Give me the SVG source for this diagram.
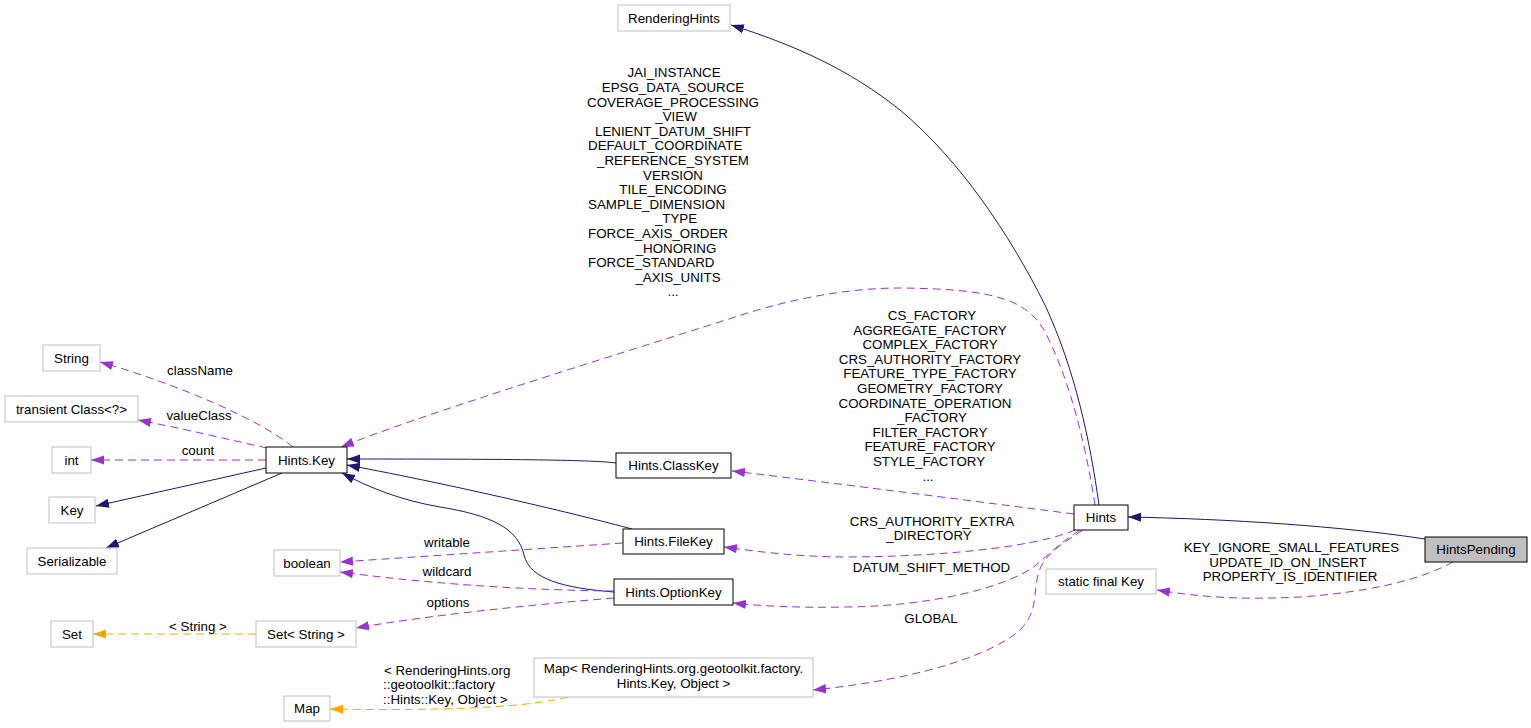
<svg xmlns="http://www.w3.org/2000/svg" width="1531" height="728" viewBox="0 0 1531 728">
<style>
text{font-family:"Liberation Sans",Arial,sans-serif;font-size:13.33px;fill:#000}
.m{text-anchor:middle}
.s{text-anchor:start}
.ext rect{fill:#fff;stroke:#bfbfbf;stroke-width:1}
.doc rect{fill:#fff;stroke:#000;stroke-width:1}
.cur rect{fill:#bfbfbf;stroke:#000;stroke-width:1}
.inh{fill:none;stroke:#191970;stroke-width:1;marker-end:url(#an)}
.use{fill:none;stroke:#9a32cd;stroke-width:1;stroke-dasharray:8,5;marker-end:url(#ap)}
.tpl{fill:none;stroke:#ffa500;stroke-width:1;stroke-dasharray:8,5;marker-end:url(#ao)}
</style>
<defs>
<marker id="an" viewBox="0 0 13 10" refX="13" refY="5" markerWidth="13" markerHeight="10" markerUnits="userSpaceOnUse" orient="auto"><path d="M0,0.4 L13,5 L0,9.6 z" fill="#191970"/></marker>
<marker id="ap" viewBox="0 0 13 10" refX="13" refY="5" markerWidth="13" markerHeight="10" markerUnits="userSpaceOnUse" orient="auto"><path d="M0,0.4 L13,5 L0,9.6 z" fill="#9a32cd"/></marker>
<marker id="ao" viewBox="0 0 13 10" refX="13" refY="5" markerWidth="13" markerHeight="10" markerUnits="userSpaceOnUse" orient="auto"><path d="M0,0.4 L13,5 L0,9.6 z" fill="#ffa500"/></marker>
</defs>
<rect width="1531" height="728" fill="#fff"/>
<g id="connectors">
<path class="inh" d="M1099,505 C1090,440 1075,370 1045,305 C1010,235 960,160 900,110 C850,70 795,45 731,25"/>
<path class="inh" d="M1425,539 C1340,526 1230,519 1128,517"/>
<path class="inh" d="M616,463 C595,460 520,459 347,459"/>
<path class="inh" d="M632,529 C580,515 460,486 347,465"/>
<path class="inh" d="M614,592 C565,588 530,580 524,555 C518,528 490,515 440,507 C400,500 370,488 342,473"/>
<path class="inh" d="M266,468 L96,506"/>
<path class="inh" d="M282,473 L106,548"/>
<path class="use" d="M293,447 C260,420 180,385 100,362"/>
<path class="use" d="M267,448 C230,440 190,430 138,420"/>
<path class="use" d="M266,460 L91,460"/>
<path class="use" d="M1095,505 C1085,440 1068,375 1044,330 C1025,298 990,289 900,288 C840,288 780,302 732,318 C600,360 420,415 341,447"/>
<path class="use" d="M1074,514 C980,502 850,485 732,471"/>
<path class="use" d="M1075,530 C1040,545 960,556 850,557 C800,557 760,552 724,547"/>
<path class="use" d="M1080,530 C1060,543 1048,555 1035,566 C1005,588 930,606 847,607 C800,608 760,606 733,603"/>
<path class="use" d="M1083,530 C1060,545 1043,555 1038,575 C1033,595 1038,612 1020,630 C995,652 930,678 813,690"/>
<path class="use" d="M1453,562 C1420,580 1370,592 1300,597 C1240,600 1200,597 1157,590"/>
<path class="use" d="M623,543 L340,562"/>
<path class="use" d="M614,591 C530,590 440,585 340,572"/>
<path class="use" d="M614,598 C540,604 430,615 356,628"/>
<path class="tpl" d="M256,634 L93,634"/>
<path class="tpl" d="M568,697 C530,707 450,711 330,709"/>
<g id="edge-labels">
<text class="m" x="200" y="375">className</text>
<text class="m" x="199" y="420">valueClass</text>
<text class="m" x="198" y="455">count</text>
<text class="m" x="674" y="77.3">JAI_INSTANCE</text>
<text class="m" x="673" y="91.9">EPSG_DATA_SOURCE</text>
<text class="m" x="673" y="106.5">COVERAGE_PROCESSING</text>
<text class="m" x="676" y="121.1">_VIEW</text>
<text class="m" x="673" y="135.7">LENIENT_DATUM_SHIFT</text>
<text class="s" x="588" y="150.3">DEFAULT_COORDINATE</text>
<text class="m" x="673" y="164.9">_REFERENCE_SYSTEM</text>
<text class="m" x="673" y="179.5">VERSION</text>
<text class="m" x="673" y="194.1">TILE_ENCODING</text>
<text class="s" x="588" y="208.7">SAMPLE_DIMENSION</text>
<text class="m" x="676" y="223.3">_TYPE</text>
<text class="s" x="588" y="237.9">FORCE_AXIS_ORDER</text>
<text class="m" x="676" y="252.5">_HONORING</text>
<text class="s" x="588" y="267.1">FORCE_STANDARD</text>
<text class="m" x="678" y="281.7">_AXIS_UNITS</text>
<text class="m" x="673" y="296.3">...</text>
<text class="m" x="932" y="320">CS_FACTORY</text>
<text class="m" x="930" y="334.6">AGGREGATE_FACTORY</text>
<text class="m" x="930" y="349.2">COMPLEX_FACTORY</text>
<text class="m" x="930" y="363.8">CRS_AUTHORITY_FACTORY</text>
<text class="m" x="930" y="378.4">FEATURE_TYPE_FACTORY</text>
<text class="m" x="930" y="393">GEOMETRY_FACTORY</text>
<text class="m" x="925" y="407.6">COORDINATE_OPERATION</text>
<text class="m" x="932" y="422.2">_FACTORY</text>
<text class="m" x="930" y="436.8">FILTER_FACTORY</text>
<text class="m" x="930" y="451.4">FEATURE_FACTORY</text>
<text class="m" x="929" y="466">STYLE_FACTORY</text>
<text class="m" x="928" y="480.6">...</text>
<text class="m" x="932" y="526">CRS_AUTHORITY_EXTRA</text>
<text class="m" x="929" y="540">_DIRECTORY</text>
<text class="m" x="931.5" y="572">DATUM_SHIFT_METHOD</text>
<text class="m" x="931" y="623">GLOBAL</text>
<text class="m" x="1291.5" y="552">KEY_IGNORE_SMALL_FEATURES</text>
<text class="m" x="1288" y="566.5">UPDATE_ID_ON_INSERT</text>
<text class="m" x="1290" y="581">PROPERTY_IS_IDENTIFIER</text>
<text class="m" x="447" y="547">writable</text>
<text class="m" x="447" y="576">wildcard</text>
<text class="m" x="448" y="607">options</text>
<text class="m" x="198" y="631">&lt; String &gt;</text>
<text class="s" x="384" y="674.5"> &lt; RenderingHints.org</text>
<text class="s" x="383" y="689">::geotoolkit::factory</text>
<text class="s" x="383" y="703.5">::Hints::Key, Object &gt;</text>
</g>
</g>
<g id="RenderingHints" class="ext"><rect x="618" y="5" width="112" height="26"/><text class="m" x="674" y="22.5">RenderingHints</text></g>
<g id="String" class="ext"><rect x="43" y="345" width="57" height="26"/><text class="m" x="71.5" y="362.5">String</text></g>
<g id="TransientClass" class="ext"><rect x="5" y="396" width="133" height="26"/><text class="m" x="71.5" y="413.5">transient Class&lt;?&gt;</text></g>
<g id="int" class="ext"><rect x="52" y="447" width="39" height="26"/><text class="m" x="71.5" y="464.5">int</text></g>
<g id="Key" class="ext"><rect x="49" y="497" width="46" height="26"/><text class="m" x="72" y="514.5">Key</text></g>
<g id="Serializable" class="ext"><rect x="27" y="548" width="90" height="26"/><text class="m" x="72" y="565.5">Serializable</text></g>
<g id="HintsKey" class="doc"><rect x="266" y="447" width="81" height="26"/><text class="m" x="306.5" y="464.5">Hints.Key</text></g>
<g id="HintsClassKey" class="doc"><rect x="616" y="453" width="115" height="25"/><text class="m" x="673.5" y="470">Hints.ClassKey</text></g>
<g id="HintsFileKey" class="doc"><rect x="623" y="529" width="101" height="25"/><text class="m" x="673.5" y="546">Hints.FileKey</text></g>
<g id="HintsOptionKey" class="doc"><rect x="614" y="579" width="119" height="26"/><text class="m" x="673.5" y="596.5">Hints.OptionKey</text></g>
<g id="boolean" class="ext"><rect x="274" y="550" width="66" height="26"/><text class="m" x="307" y="567.5">boolean</text></g>
<g id="Set" class="ext"><rect x="51" y="621" width="42" height="26"/><text class="m" x="72" y="638.5">Set</text></g>
<g id="SetString" class="ext"><rect x="256" y="621" width="100" height="26"/><text class="m" x="306" y="638.5">Set&lt; String &gt;</text></g>
<g id="Map" class="ext"><rect x="284" y="696" width="46" height="25"/><text class="m" x="307" y="713">Map</text></g>
<g id="MapRenderingHints" class="ext"><rect x="534" y="658" width="279" height="39"/><text class="m" x="673.5" y="673">Map&lt; RenderingHints.org.geotoolkit.factory.</text><text class="m" x="673.5" y="688">Hints.Key, Object &gt;</text></g>
<g id="Hints" class="doc"><rect x="1074" y="505" width="54" height="25"/><text class="m" x="1101" y="522">Hints</text></g>
<g id="HintsPending" class="cur"><rect x="1425" y="537" width="102" height="25"/><text class="m" x="1476" y="554">HintsPending</text></g>
<g id="StaticFinalKey" class="ext"><rect x="1046" y="569" width="110" height="25"/><text class="m" x="1101" y="586">static final Key</text></g>
</svg>
